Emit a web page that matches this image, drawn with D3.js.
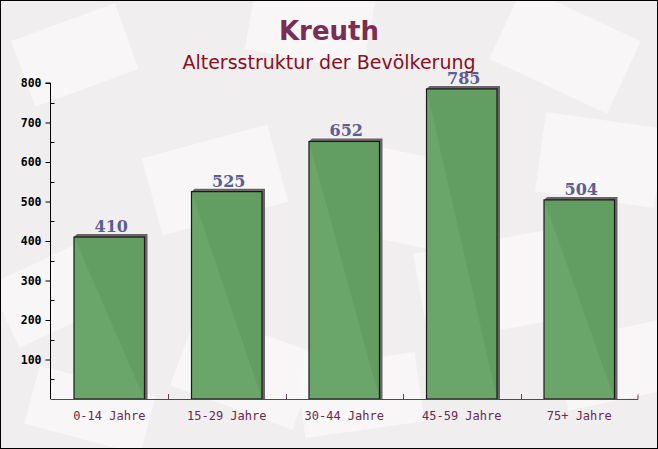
<!DOCTYPE html>
<html><head><meta charset="utf-8">
<script src="https://cdn.jsdelivr.net/npm/d3@7"></script>
<style>body{margin:0;background:#fff}svg{display:block}</style>
</head><body>
<script>
const categories = ["0-14 Jahre","15-29 Jahre","30-44 Jahre","45-59 Jahre","75+ Jahre"];
const values = [410, 525, 652, 785, 504];
const yTicks = [100,200,300,400,500,600,700,800];
const title = "Kreuth";
const subtitle = "Altersstruktur der Bevölkerung";

const W = 658, H = 449;
const m = {left:50.5, right:20, top:83, bottom:50};
const svg = d3.select("body").append("svg").attr("width",W).attr("height",H);

// background
svg.append("rect").attr("width",W).attr("height",H).attr("fill","#f1eef0");
const deco = [[20,20,110,70,-20],[250,-10,120,70,10],[500,10,130,80,25],[150,140,130,80,-15],[320,150,140,90,12],
  [540,120,120,80,8],[0,260,100,70,-25],[420,240,150,90,-10],[180,330,130,80,20],[560,330,110,70,-12],[300,360,120,70,-8],[30,380,120,60,15]];
svg.append("g").selectAll("rect").data(deco).join("rect")
  .attr("x",d=>d[0]).attr("y",d=>d[1]).attr("width",d=>d[2]).attr("height",d=>d[3])
  .attr("transform",d=>`rotate(${d[4]},${d[0]+d[2]/2},${d[1]+d[3]/2})`)
  .attr("fill","#faf8f8").attr("opacity",0.8);

const x = d3.scaleBand().domain(categories).range([m.left, 638]).paddingInner(0.4).paddingOuter(0.2);
const y = d3.scaleLinear().domain([0,800]).range([399, 83]);

// bars shadow (3d)
const g = svg.append("g");
categories.forEach((c,i)=>{
  const x0 = x(c), x1 = x(c)+x.bandwidth(), yt = y(values[i]), yb = y(0);
  g.append("path").attr("d",`M${x0},${yt} L${x0+3},${yt-3} L${x1+3},${yt-3} L${x1+3},${yb} L${x1},${yb} Z`)
    .attr("fill","#6a6468");
});
g.selectAll("rect.bar").data(values).join("rect").attr("class","bar")
  .attr("x",(d,i)=>x(categories[i])).attr("y",d=>y(d))
  .attr("width",x.bandwidth()).attr("height",d=>y(0)-y(d))
  .attr("fill","#62a062").attr("fill-opacity",0.95).attr("stroke","#1a1a1a").attr("stroke-width",1.2);

// value labels
g.selectAll("text.val").data(values).join("text").attr("class","val")
  .attr("x",(d,i)=>x(categories[i])+x.bandwidth()/2+2).attr("y",d=>y(d)-5)
  .attr("text-anchor","middle").attr("font-family","'DejaVu Serif',serif").attr("font-weight","bold")
  .attr("font-size",16).attr("fill","#5a6090").text(d=>d);

// y axis
const ya = svg.append("g").attr("transform",`translate(${m.left},0)`)
  .call(d3.axisLeft(y).tickValues(yTicks).tickSize(5).tickPadding(4));
ya.select(".domain").attr("d",`M-0,399V83H-5`).attr("stroke","#000");
ya.selectAll(".tick line").attr("stroke","#000");
ya.selectAll("text").attr("font-family","'DejaVu Sans Mono',monospace").attr("font-weight","bold").attr("font-size",11.5).attr("fill","#000");
const minor = d3.range(50,800,100);
svg.append("g").selectAll("line").data(minor).join("line")
  .attr("x1",m.left).attr("x2",m.left+4).attr("y1",d=>Math.round(y(d))+0.5).attr("y2",d=>Math.round(y(d))+0.5).attr("stroke","#000");

// x axis
const xa = svg.append("g").attr("transform",`translate(0,399.5)`)
  .call(d3.axisBottom(x).tickSize(0).tickPadding(12));
xa.select(".domain").attr("d",`M${m.left},0H638V-5`).attr("stroke","#6b3a5a");
xa.selectAll("text").attr("font-family","'DejaVu Sans Mono',monospace").attr("font-size",12).attr("fill","#6b2a4f");
const bounds = categories.slice(1).map(c=>x(c)-x.step()*x.paddingInner()/2);
svg.append("g").selectAll("line").data(bounds).join("line")
  .attr("x1",d=>Math.round(d)+0.5).attr("x2",d=>Math.round(d)+0.5).attr("y1",399).attr("y2",394).attr("stroke","#6b3a5a");

// titles
svg.append("text").attr("x",329).attr("y",40).attr("text-anchor","middle")
  .attr("font-family","'DejaVu Sans',sans-serif").attr("font-weight","bold").attr("font-size",26).attr("fill","#7b2d55").text(title);
svg.append("text").attr("x",329).attr("y",69).attr("text-anchor","middle")
  .attr("font-family","'DejaVu Sans',sans-serif").attr("font-size",19).attr("fill","#8b0f1f").text(subtitle);

// border
svg.append("rect").attr("x",0.5).attr("y",0.5).attr("width",W-1).attr("height",H-1).attr("fill","none").attr("stroke","#000");
</script>
</body></html>
